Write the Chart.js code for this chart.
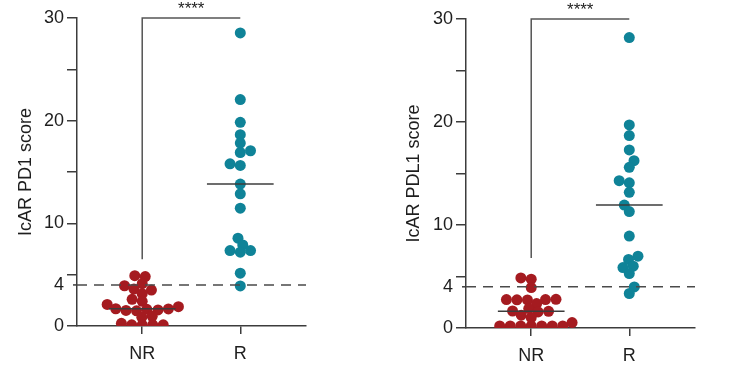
<!DOCTYPE html>
<html>
<head>
<meta charset="utf-8">
<script src="https://cdn.jsdelivr.net/npm/chart.js@4.4.1/dist/chart.umd.min.js"></script>
<style>
  html, body { margin: 0; padding: 0; background: #ffffff; }
  body { width: 729px; height: 388px; position: relative; overflow: hidden; }
  .panel { position: absolute; top: 0; height: 388px; }
  #p1 { left: 0; width: 340px; }
  #p2 { left: 360px; width: 369px; }
</style>
</head>
<body>
<div class="panel" id="p1"><canvas id="c1"></canvas></div>
<div class="panel" id="p2"><canvas id="c2"></canvas></div>
<script>
// ---------- data ----------
const categories = ['NR', 'R'];
const categoryPositions = [1, 2];
const xRange = [0.335, 2.67];

const pd1NR = [4.9, 4.82, 4.12, 3.92, 3.6, 3.5, 3.15, 2.6, 2.4, 2.1, 1.88, 1.68, 1.66, 1.62, 1.56, 1.52, 1.48, 0.95, 0.85, 0.26, 0.12, 0.12, 0.12, 0.12];
const pd1R = [28.55, 22.05, 19.84, 18.63, 17.82, 17.07, 16.9, 15.8, 15.64, 13.82, 12.88, 11.48, 8.55, 7.9, 7.35, 7.35, 7.19, 5.14, 3.9];

const pdl1NR = [4.86, 4.74, 3.93, 2.78, 2.76, 2.76, 2.74, 2.72, 2.37, 1.89, 1.65, 1.62, 1.56, 1.24, 1.01, 0.53, 0.2, 0.2, 0.2, 0.2, 0.2, 0.2, 0.2];
const pdl1R = [28.2, 19.72, 18.68, 17.29, 16.25, 15.6, 14.3, 14.1, 13.17, 11.94, 11.3, 8.92, 6.97, 6.65, 6.0, 5.87, 5.29, 3.99, 3.35];

const yTickValues = [0, 4, 5, 10, 15, 20, 25, 30];
const yTickLabels = [0, 4, 10, 20, 30];
const yRange = [0, 30];
const threshold = 4;
const significance = '****';
const bracketBase1 = 6.5;
const bracketBase2 = 6.8;
const medianHalfWidth = 0.34;

// ---------- style ----------
const FONT = "'Liberation Sans', Arial, Helvetica, sans-serif";
const RED = '#a51b20';
const TEAL = '#0f8398';
const AXIS = '#3c3c3c';
const TEXT = '#1e1e1e';

function median(arr) {
  const s = arr.slice().sort((a, b) => a - b);
  const n = s.length;
  return n % 2 ? s[(n - 1) / 2] : (s[n / 2 - 1] + s[n / 2]) / 2;
}

// beeswarm: spread points of each scatter dataset horizontally around their category
const swarmPlugin = {
  id: 'swarm',
  afterDatasetsUpdate(chart, args, opts) {
    const DX = opts.dx || 10;
    const DY = opts.dy || 7;
    chart.data.datasets.forEach((ds, i) => {
      if (ds.type !== 'scatter') return;
      const meta = chart.getDatasetMeta(i);
      const pts = meta.data.slice().sort((a, b) => b.y - a.y);
      const placed = [];
      let sum = 0;
      pts.forEach(p => {
        const cx = p.x;
        const intervals = [];
        placed.forEach(q => {
          const dy = Math.abs(q.y - p.y);
          if (dy < DY) {
            const w = DX * Math.sqrt(1 - (dy / DY) * (dy / DY));
            intervals.push([q.dx - w, q.dx + w]);
          }
        });
        const cands = [0];
        intervals.forEach(iv => { cands.push(iv[0], iv[1]); });
        const valid = cands.filter(c => intervals.every(iv => !(c > iv[0] + 1e-6 && c < iv[1] - 1e-6)));
        valid.sort((a, b) => {
          const d = Math.abs(a) - Math.abs(b);
          if (Math.abs(d) > 1e-6) return d;
          return sum > 0 ? a - b : b - a;
        });
        const dx = valid[0];
        placed.push({ y: p.y, dx: dx });
        sum += dx;
        p.x = cx + dx;
      });
    });
  }
};

const starsPlugin = {
  id: 'stars',
  afterDraw(chart, args, opts) {
    const ctx = chart.ctx;
    const xs = chart.scales.x;
    const ys = chart.scales.y;
    const cx = (xs.getPixelForValue(categoryPositions[0]) + xs.getPixelForValue(categoryPositions[1])) / 2;
    ctx.save();
    ctx.font = (opts.size || 15) + 'px ' + FONT;
    ctx.fillStyle = TEXT;
    ctx.textAlign = 'center';
    ctx.textBaseline = 'alphabetic';
    ctx.fillText(significance, cx, chart.chartArea.top + (opts.dy || -1));
    // short tick at the threshold value
    const ty = ys.getPixelForValue(threshold);
    ctx.strokeStyle = AXIS;
    ctx.lineWidth = 1.5;
    ctx.beginPath();
    ctx.moveTo(chart.chartArea.left - 4, ty);
    ctx.lineTo(chart.chartArea.left, ty);
    ctx.stroke();
    ctx.restore();
  }
};

function makeChart(canvasId, nrVals, rVals, yTitle, bracketBase, layoutPad) {
  const medNR = median(nrVals);
  const medR = median(rVals);
  const lineDs = (pts, extra) => Object.assign({
    type: 'line', data: pts, borderColor: AXIS, borderWidth: 1.5,
    pointRadius: 0, fill: false, tension: 0, clip: false
  }, extra || {});
  return new Chart(document.getElementById(canvasId), {
    data: {
      datasets: [
        lineDs([{ x: categoryPositions[0] - medianHalfWidth, y: medNR }, { x: categoryPositions[0] + medianHalfWidth, y: medNR }]),
        lineDs([{ x: categoryPositions[1] - medianHalfWidth, y: medR }, { x: categoryPositions[1] + medianHalfWidth, y: medR }]),
        lineDs([{ x: xRange[0], y: threshold }, { x: xRange[1], y: threshold }], { borderDash: [10, 7], borderColor: '#4a4a4a' }),
        lineDs([{ x: categoryPositions[0], y: bracketBase }, { x: categoryPositions[0], y: yRange[1] }, { x: categoryPositions[1], y: yRange[1] }], { borderColor: '#555' }),
        {
          type: 'scatter', data: nrVals.map(v => ({ x: categoryPositions[0], y: v })),
          backgroundColor: RED, borderColor: RED, borderWidth: 0, pointRadius: 5.5, clip: 0
        },
        {
          type: 'scatter', data: rVals.map(v => ({ x: categoryPositions[1], y: v })),
          backgroundColor: TEAL, borderColor: TEAL, borderWidth: 0, pointRadius: 5.5, clip: 0
        }
      ]
    },
    options: {
      responsive: false,
      animation: false,
      events: [],
      layout: { padding: layoutPad },
      plugins: {
        legend: { display: false },
        tooltip: { enabled: false },
        swarm: { dx: 10.5, dy: 7.5 },
        stars: { size: 17, dy: -4 }
      },
      scales: {
        x: {
          type: 'linear', min: xRange[0], max: xRange[1],
          afterBuildTicks: s => { s.ticks = categoryPositions.map(v => ({ value: v })); },
          afterFit: s => { s.height = 40; },
          ticks: {
            callback: v => categories[categoryPositions.indexOf(v)] || '',
            font: { family: FONT, size: 18 }, color: TEXT, padding: 9, maxRotation: 0
          },
          grid: { drawOnChartArea: false, drawTicks: true, tickLength: 8, color: AXIS, lineWidth: 1.5 },
          border: { display: true, color: AXIS, width: 1.5 }
        },
        y: {
          type: 'linear', min: yRange[0], max: yRange[1],
          afterBuildTicks: s => { s.ticks = yTickValues.map(v => ({ value: v })); },
          afterFit: s => { s.width = layoutPad.yWidth; },
          ticks: {
            callback: v => yTickLabels.includes(v) ? String(v) : '',
            font: { family: FONT, size: 18 }, color: TEXT, padding: 3, autoSkip: false
          },
          grid: {
            drawOnChartArea: false, drawTicks: true, tickLength: 10, lineWidth: 1.5,
            tickColor: c => (c.tick && c.tick.value === threshold) ? 'rgba(0,0,0,0)' : AXIS,
            color: AXIS
          },
          border: { display: true, color: AXIS, width: 1.5 },
          title: { display: true, text: yTitle, font: { family: FONT, size: 18 }, color: TEXT, padding: { top: 4, bottom: 4 } }
        }
      }
    },
    plugins: [swarmPlugin, starsPlugin]
  });
}

function sizeCanvas(id, w, h) {
  const c = document.getElementById(id);
  c.width = w; c.height = h;
  c.style.width = w + 'px'; c.style.height = h + 'px';
}
sizeCanvas('c1', 340, 388);
sizeCanvas('c2', 369, 388);

const pad1 = { left: 11, right: 34, top: 18, bottom: 22, yWidth: 66 };
const pad2 = { left: 39, right: 34, top: 19, bottom: 20, yWidth: 67 };
makeChart('c1', pd1NR, pd1R, 'IcAR PD1 score', bracketBase1, pad1);
makeChart('c2', pdl1NR, pdl1R, 'IcAR PDL1 score', bracketBase2, pad2);
</script>
</body>
</html>
